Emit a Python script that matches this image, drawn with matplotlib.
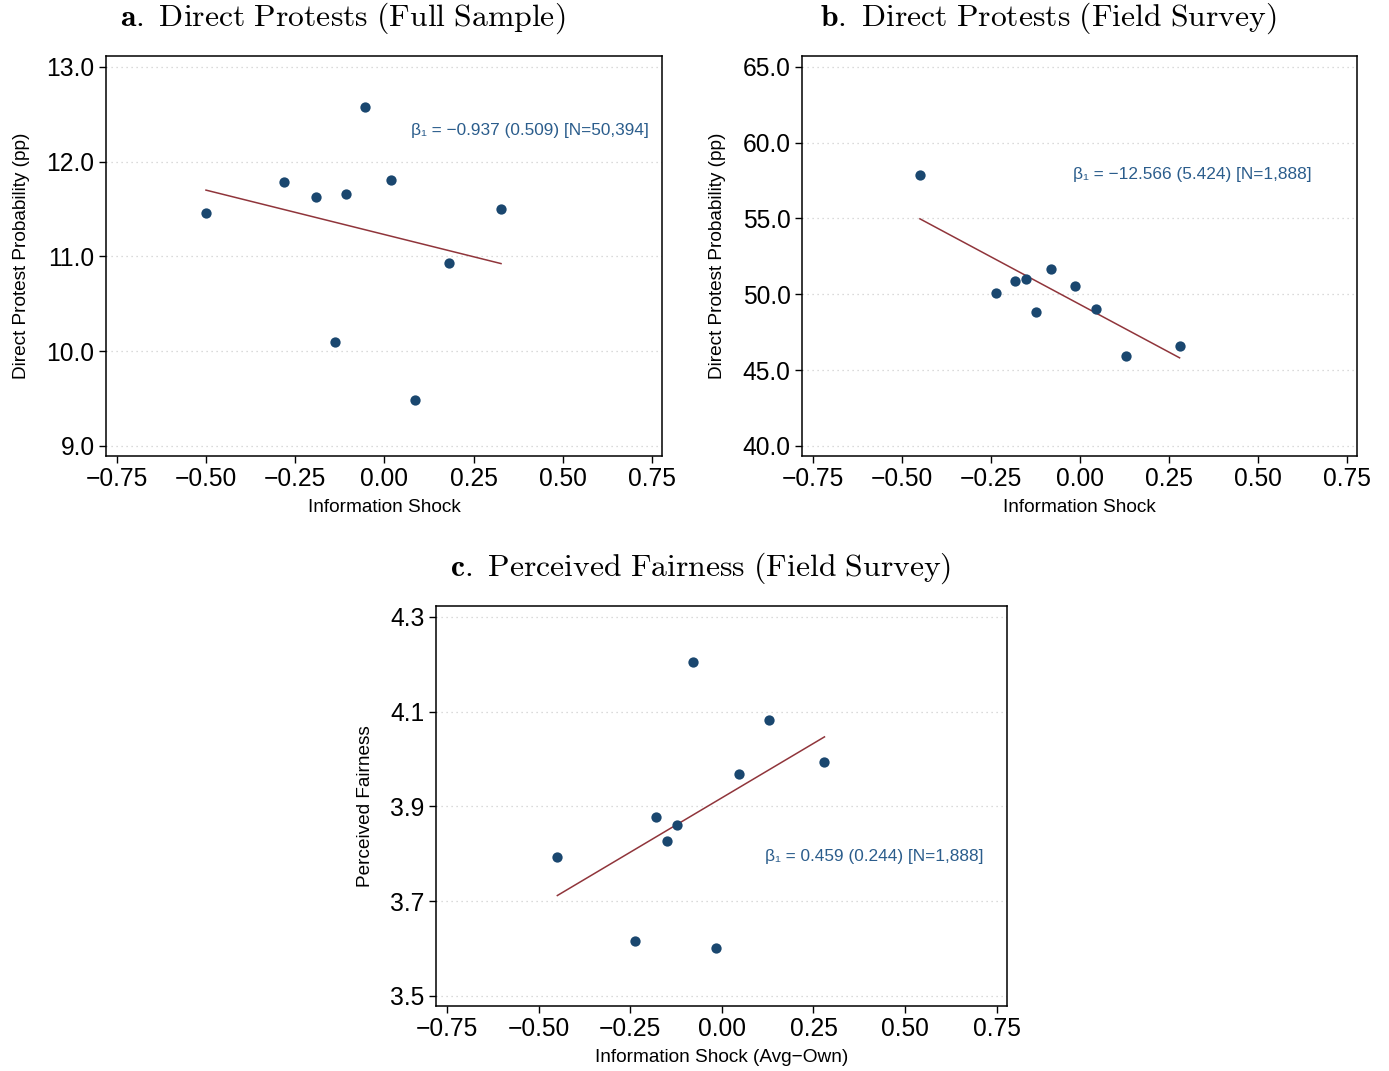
import matplotlib
matplotlib.use("Agg")
import matplotlib.pyplot as plt
from matplotlib.ticker import FuncFormatter
import numpy as np

plt.rcParams['font.family'] = ['Liberation Sans', 'DejaVu Sans']
plt.rcParams['mathtext.fontset'] = 'cm'

# binned scatter values
x_full = [-0.500, -0.282, -0.192, -0.108, -0.055, 0.018, -0.139, 0.086, 0.181, 0.327]
y_full = [11.46, 11.78, 11.63, 11.66, 12.58, 11.81, 10.10, 9.49, 10.93, 11.50]

x_field = [-0.449, -0.236, -0.181, -0.150, -0.122, -0.080, -0.015, 0.046, 0.130, 0.280]
y_protest = [57.88, 50.09, 50.88, 51.02, 48.84, 51.68, 50.55, 49.04, 45.94, 46.60]
y_fair = [3.793, 3.616, 3.878, 3.827, 3.861, 4.205, 3.601, 3.969, 4.083, 3.994]

# fitted lines (intercept, slope)
fit_full = (11.23, -0.937)
fit_protest = (49.33, -12.566)
fit_fair = (3.918, 0.459)

notes = ["\u03b2\u2081 = \u22120.937 (0.509) [N=50,394]",
         "\u03b2\u2081 = \u221212.566 (5.424) [N=1,888]",
         "\u03b2\u2081 = 0.459 (0.244) [N=1,888]"]

titles = [r"$\mathbf{a.}\ \mathrm{Direct\ Protests\ (Full\ Sample)}$",
          r"$\mathbf{b.}\ \mathrm{Direct\ Protests\ (Field\ Survey)}$",
          r"$\mathbf{c.}\ \mathrm{Perceived\ Fairness\ (Field\ Survey)}$"]

xticks = [-0.75, -0.5, -0.25, 0.0, 0.25, 0.5, 0.75]

navy = '#1a476f'
maroon = '#90353b'
note_col = '#2b5d8c'


def fmt(decimals):
    return FuncFormatter(lambda v, p: f"{v:.{decimals}f}".replace('-', '\u2212'))


def panel(ax, x, y, fit, yticks, ydec, ylabel, xlabel, note, note_pos):
    ax.scatter(x, y, s=55, color=navy, zorder=3, linewidths=0)
    xs = np.array([min(x), max(x)])
    ax.plot(xs, fit[0] + fit[1] * xs, color=maroon, lw=1.1, zorder=2)
    ax.set_xticks(xticks)
    ax.set_yticks(yticks)
    ax.set_xlim(-0.781, 0.779)
    span = yticks[-1] - yticks[0]
    ax.set_ylim(yticks[0] - span * 0.0264, yticks[-1] + span * 0.0282)
    ax.xaxis.set_major_formatter(fmt(2))
    ax.yaxis.set_major_formatter(fmt(ydec))
    ax.tick_params(labelsize=17.7, length=5, width=1, pad=3, top=False, right=False)
    ax.yaxis.grid(True, color='#cfcfcf', lw=0.9, linestyle=(0, (1, 3)))
    ax.set_axisbelow(True)
    for s in ax.spines.values():
        s.set_linewidth(1.1)
    ax.set_xlabel(xlabel, fontsize=13.7, labelpad=6)
    ax.set_ylabel(ylabel, fontsize=13.7, labelpad=12)
    ax.text(note_pos[0], note_pos[1], note, transform=ax.transAxes, ha='right',
            va='center', fontsize=12.4, color=note_col,
            family=['Liberation Sans', 'DejaVu Sans'])


fig = plt.figure(figsize=(13.89, 10.71), dpi=100)
W, H = 1389, 1071


def rect(l, t, r, b):
    return [l / W, 1 - b / H, (r - l) / W, (b - t) / H]


ax_a = fig.add_axes(rect(105.7, 56, 662.3, 456))
ax_b = fig.add_axes(rect(801.7, 56, 1357.3, 456))
ax_c = fig.add_axes(rect(435.7, 606, 1007.3, 1006))

panel(ax_a, x_full, y_full, fit_full, [9.0, 10.0, 11.0, 12.0, 13.0], 1,
      "Direct Protest Probability (pp)", "Information Shock", notes[0], (0.976, 0.815))
panel(ax_b, x_field, y_protest, fit_protest, [40.0, 45.0, 50.0, 55.0, 60.0, 65.0], 1,
      "Direct Protest Probability (pp)", "Information Shock", notes[1], (0.918, 0.705))
panel(ax_c, x_field, y_fair, fit_fair, [3.5, 3.7, 3.9, 4.1, 4.3], 1,
      "Perceived Fairness", "Information Shock (Avg\u2212Own)", notes[2], (0.959, 0.375))

fig.text(343 / W, 1 - 18 / H, titles[0], ha='center', va='center', fontsize=22.8)
fig.text(1048 / W, 1 - 18 / H, titles[1], ha='center', va='center', fontsize=22.8)
fig.text(701 / W, 1 - 568 / H, titles[2], ha='center', va='center', fontsize=22.8)

fig.savefig("out.png", dpi=100)
